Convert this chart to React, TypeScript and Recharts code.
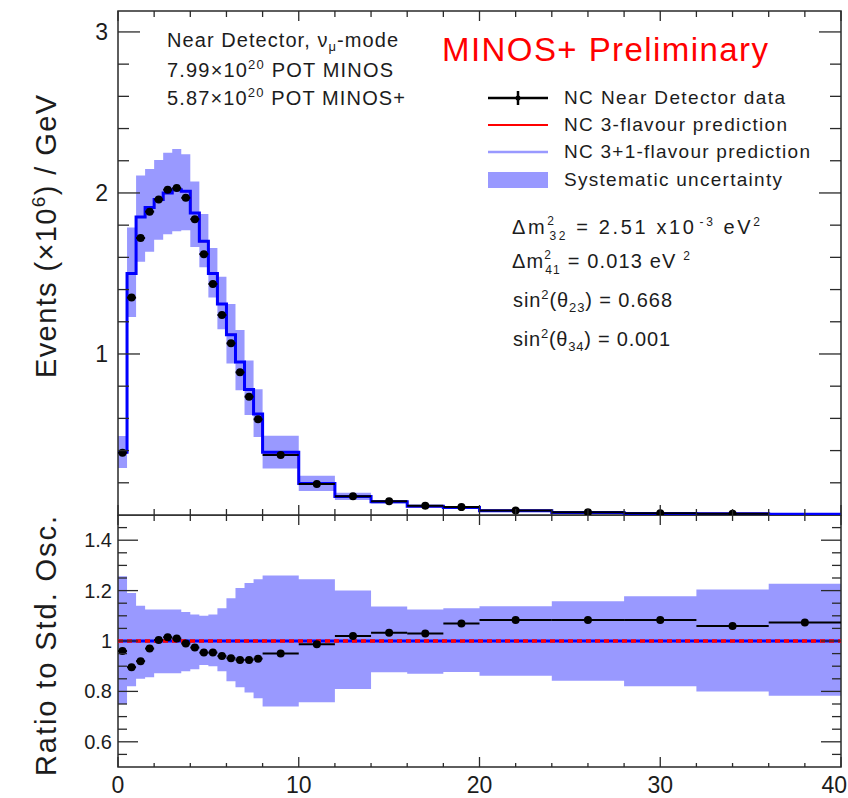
import React from 'react';
import {
  ComposedChart,
  Line,
  Area,
  Scatter,
  ErrorBar,
  XAxis,
  YAxis,
  ReferenceArea,
  Legend,
} from 'recharts';

// ---- binning (reconstructed neutrino energy, GeV) ----
const binEdges = [
  0, 0.5, 1, 1.5, 2, 2.5, 3, 3.5, 4, 4.5, 5, 5.5, 6, 6.5, 7, 7.5, 8,
  10, 12, 14, 16, 18, 20, 24, 28, 32, 36, 40,
];

// ---- upper panel: events (x10^6) / GeV per bin ----
const nc31Prediction = [
  0.39, 1.5, 1.85, 1.91, 1.96, 2.0, 2.02, 2.01, 1.875, 1.7, 1.5, 1.31, 1.12,
  0.95, 0.78, 0.627, 0.39, 0.196, 0.115, 0.082, 0.055, 0.046, 0.026, 0.016,
  0.01, 0.0075, 0.0045,
];
const nc3Prediction = [
  0.39, 1.5, 1.85, 1.91, 1.96, 2.0, 2.02, 2.01, 1.875, 1.7, 1.5, 1.31, 1.12,
  0.95, 0.78, 0.627, 0.39, 0.196, 0.115, 0.082, 0.055, 0.046, 0.026, 0.016,
  0.01, 0.0075, 0.0045,
];
const ncNearData: (number | null)[] = [
  0.387, 1.35, 1.72, 1.884, 1.96, 2.02, 2.03, 1.97, 1.837, 1.62, 1.435, 1.242,
  1.066, 0.886, 0.735, 0.594, 0.373, 0.193, 0.117, 0.085, 0.057, 0.049, 0.028,
  0.017, 0.011, 0.008, null,
];

// ---- lower panel: ratio to standard (3-flavour) oscillation ----
const ratioData = [
  0.96, 0.896, 0.92, 0.97, 1.004, 1.015, 1.01, 0.99, 0.974, 0.954, 0.954, 0.94,
  0.932, 0.925, 0.925, 0.93, 0.95, 0.987, 1.02, 1.033, 1.03, 1.069, 1.083,
  1.083, 1.083, 1.06, 1.073,
];
const ratio3Flavour = [
  1, 1, 1, 1, 1, 1, 1, 1, 1, 1, 1, 1, 1, 1, 1, 1, 1, 1, 1, 1, 1, 1, 1, 1, 1, 1, 1,
];
const ratio31Flavour = [
  1, 1, 1, 1, 1, 1, 1, 1, 1, 1, 1, 1, 1, 1, 1, 1, 1, 1, 1, 1, 1, 1, 1, 1, 1, 1, 1,
];
const systHigh = [
  1.257, 1.19, 1.14, 1.125, 1.125, 1.125, 1.125, 1.115, 1.105, 1.1, 1.105,
  1.13, 1.17, 1.21, 1.23, 1.245, 1.26, 1.245, 1.2, 1.137, 1.125, 1.13, 1.138,
  1.158, 1.178, 1.204, 1.227,
];
const systLow = [
  0.75, 0.82, 0.85, 0.856, 0.872, 0.872, 0.872, 0.88, 0.888, 0.905, 0.9, 0.88,
  0.84, 0.816, 0.796, 0.773, 0.74, 0.757, 0.81, 0.876, 0.87, 0.877, 0.862,
  0.842, 0.82, 0.8, 0.783,
];

// ---- axis ticks ----
const xTicks = [0, 2, 4, 6, 8, 10, 12, 14, 16, 18, 20, 22, 24, 26, 28, 30, 32, 34, 36, 38, 40];
const xMajorTicks = [0, 10, 20, 30, 40];
const upperYTicks = [
  0.2, 0.4, 0.6, 0.8, 1, 1.2, 1.4, 1.6, 1.8, 2, 2.2, 2.4, 2.6, 2.8, 3,
];
const upperYLabels = [1, 2, 3];
const lowerYTicks = [
  0.55, 0.6, 0.65, 0.7, 0.75, 0.8, 0.85, 0.9, 0.95, 1, 1.05, 1.1, 1.15, 1.2,
  1.25, 1.3, 1.35, 1.4, 1.45,
];
const lowerYLabels = [0.6, 0.8, 1, 1.2, 1.4];

const legendLabels = [
  'NC Near Detector data',
  'NC 3-flavour prediction',
  'NC 3+1-flavour prediction',
  'Systematic uncertainty',
];

// ---- layout & style ----
const W = 848;
const PLOT_L = 118;
const PLOT_R = 841;
const UP_H = 520;
const UP_TOP = 11;
const UP_BOTTOM = 515;
const LOW_H = 283;
const LOW_AXIS_H = 31;
const LOW_BOTTOM = LOW_H - LOW_AXIS_H;
const UP_DOMAIN: [number, number] = [0, 3.13];
const LOW_DOMAIN: [number, number] = [0.5, 1.5];
const X_DOMAIN: [number, number] = [0, 40];

const FONT = '"Liberation Sans", Arial, Helvetica, sans-serif';
const INK = '#1c1c1c';
const FRAME = '#2a2a2a';
const BAND = '#9999ff';
const BLUE = '#0000ff';
const RED = '#ff0000';

// ---- tables built from the arrays ----
const nBins = binEdges.length - 1;
const atBin = (arr: number[], i: number) => arr[Math.min(i, nBins - 1)];

const upperSteps = binEdges.map((x, i) => ({
  x,
  pred3: atBin(nc3Prediction, i),
  pred31: atBin(nc31Prediction, i),
  syst: [
    atBin(nc31Prediction, i) * atBin(systLow, i),
    atBin(nc31Prediction, i) * atBin(systHigh, i),
  ],
}));

const lowerSteps = binEdges.map((x, i) => ({
  x,
  r3: atBin(ratio3Flavour, i),
  r31: atBin(ratio31Flavour, i),
  syst: [atBin(systLow, i), atBin(systHigh, i)],
}));

const binPoints = (values: (number | null)[]) =>
  values
    .map((y, i) =>
      y == null
        ? null
        : {
            x: (binEdges[i] + binEdges[i + 1]) / 2,
            y,
            xerr: (binEdges[i + 1] - binEdges[i]) / 2,
          }
    )
    .filter((p): p is { x: number; y: number; xerr: number } => p !== null);

const upperPoints = binPoints(ncNearData);
const lowerPoints = binPoints(ratioData);

// ---- marks ----
const Marker = (p: any) =>
  p.cx == null || p.cy == null ? <g /> : <circle cx={p.cx} cy={p.cy} r={4} fill="#000" />;

const isIn = (list: number[], v: number) => list.some((t) => Math.abs(t - v) < 1e-6);

const UpperXTick = (p: any) => {
  const v = p.payload?.value ?? 0;
  const len = isIn(xMajorTicks, v) ? 10 : 6;
  return (
    <g>
      <line x1={p.x} x2={p.x} y1={UP_BOTTOM} y2={UP_BOTTOM - len} stroke={FRAME} strokeWidth={1.3} />
      <line x1={p.x} x2={p.x} y1={UP_TOP} y2={UP_TOP + len} stroke={FRAME} strokeWidth={1.3} />
    </g>
  );
};

const LowerXTick = (p: any) => {
  const v = p.payload?.value ?? 0;
  const major = isIn(xMajorTicks, v);
  const last = Math.abs(v - X_DOMAIN[1]) < 1e-6;
  return (
    <g>
      <line x1={p.x} x2={p.x} y1={0} y2={major ? 10 : 6} stroke={FRAME} strokeWidth={1.3} />
      <line x1={p.x} x2={p.x} y1={LOW_BOTTOM} y2={LOW_BOTTOM - (major ? 10 : 4)} stroke={FRAME} strokeWidth={1.3} />
      {major && (
        <text
          x={last ? W - 1 : p.x}
          y={LOW_BOTTOM + 26}
          textAnchor={last ? 'end' : 'middle'}
          fontSize={23}
          fontFamily={FONT}
          fill={INK}
        >
          {v}
        </text>
      )}
    </g>
  );
};

const UpperYTick = (p: any) => {
  const v = p.payload?.value ?? 0;
  const major = isIn(upperYLabels, v);
  const len = major ? 22 : 11;
  return (
    <g>
      <line x1={PLOT_L} x2={PLOT_L + len} y1={p.y} y2={p.y} stroke={FRAME} strokeWidth={1.3} />
      <line x1={PLOT_R - len} x2={PLOT_R} y1={p.y} y2={p.y} stroke={FRAME} strokeWidth={1.3} />
      {major && (
        <text x={108} y={p.y + 8} textAnchor="end" fontSize={23} fontFamily={FONT} fill={INK}>
          {v}
        </text>
      )}
    </g>
  );
};

const LowerYTick = (p: any) => {
  const v = p.payload?.value ?? 0;
  const major = isIn(lowerYLabels, v);
  const len = major ? 20 : 9;
  return (
    <g>
      <line x1={PLOT_L} x2={PLOT_L + len} y1={p.y} y2={p.y} stroke={FRAME} strokeWidth={1.3} />
      <line x1={PLOT_R - len} x2={PLOT_R} y1={p.y} y2={p.y} stroke={FRAME} strokeWidth={1.3} />
      {major && (
        <text x={112} y={p.y + 7} textAnchor="end" fontSize={20} fontFamily={FONT} fill={INK}>
          {Math.abs(v - 1) < 1e-6 ? '1' : v.toFixed(1)}
        </text>
      )}
    </g>
  );
};

// ---- legend ----
const LEG_X0 = 488;
const LEG_X1 = 548;
const LEG_TEXT_X = 564;
const LEG_ROWS_Y = [98, 125, 152, 180];
const LEG_TEXT_LEN = [221, 223, 246, 218];

const renderLegend = () => (
  <svg width={W} height={200} style={{ display: 'block' }}>
    {/* data: line with error tick and marker */}
    <line x1={LEG_X0} x2={LEG_X1} y1={LEG_ROWS_Y[0]} y2={LEG_ROWS_Y[0]} stroke="#000" strokeWidth={2.5} />
    <line x1={518} x2={518} y1={LEG_ROWS_Y[0] - 7} y2={LEG_ROWS_Y[0] + 7} stroke="#000" strokeWidth={2.5} />
    <circle cx={518} cy={LEG_ROWS_Y[0]} r={2.5} fill="#000" />
    {/* 3-flavour */}
    <line x1={LEG_X0} x2={LEG_X1} y1={LEG_ROWS_Y[1]} y2={LEG_ROWS_Y[1]} stroke={RED} strokeWidth={2} />
    {/* 3+1-flavour */}
    <line x1={LEG_X0} x2={LEG_X1} y1={LEG_ROWS_Y[2]} y2={LEG_ROWS_Y[2]} stroke={BAND} strokeWidth={2.5} />
    {/* band */}
    <rect x={LEG_X0} y={LEG_ROWS_Y[3] - 8} width={LEG_X1 - LEG_X0} height={16} fill={BAND} />
    {legendLabels.map((label, i) => (
      <text
        key={label}
        x={LEG_TEXT_X}
        y={LEG_ROWS_Y[i] + 6}
        fontSize={19}
        fontFamily={FONT}
        fill={INK}
        textLength={LEG_TEXT_LEN[i]}
        lengthAdjust="spacing"
      >
        {label}
      </text>
    ))}
  </svg>
);

// ---- annotations and axis titles ----
const Annotations = () => (
  <svg
    width={W}
    height={798}
    style={{ position: 'absolute', left: 0, top: 0, pointerEvents: 'none' }}
    fontFamily={FONT}
    fill={INK}
  >
    <text x={167} y={47} fontSize={20} textLength={231} lengthAdjust="spacing">
      Near Detector, ν<tspan dy={4} fontSize={13}>μ</tspan>
      <tspan dy={-4}>-mode</tspan>
    </text>
    <text x={167} y={77} fontSize={20} textLength={226} lengthAdjust="spacing">
      7.99×10<tspan dy={-8} fontSize={13}>20</tspan>
      <tspan dy={8}>{' POT MINOS'}</tspan>
    </text>
    <text x={167} y={105} fontSize={20} textLength={238} lengthAdjust="spacing">
      5.87×10<tspan dy={-8} fontSize={13}>20</tspan>
      <tspan dy={8}>{' POT MINOS+'}</tspan>
    </text>

    <text x={442} y={61} fontSize={33} fill={RED} textLength={326} lengthAdjust="spacing">
      MINOS+ Preliminary
    </text>

    <text x={512} y={234} fontSize={20} textLength={248} lengthAdjust="spacing">
      Δm<tspan dy={-9} fontSize={12}>2</tspan>
      <tspan dx={-7} dy={15} fontSize={12}>32</tspan>
      <tspan dy={-6}>{' = 2.51 x10'}</tspan>
      <tspan dx={3} dy={-8} fontSize={12}>-3</tspan>
      <tspan dy={8}>{' eV'}</tspan>
      <tspan dy={-8} fontSize={12}>2</tspan>
    </text>
    <text x={512} y={268} fontSize={20} textLength={178} lengthAdjust="spacing">
      Δm<tspan dy={-9} fontSize={12}>2</tspan>
      <tspan dx={-7} dy={15} fontSize={12}>41</tspan>
      <tspan dy={-6}>{' = 0.013 eV '}</tspan>
      <tspan dy={-8} fontSize={12}>2</tspan>
    </text>
    <text x={513} y={307} fontSize={20} textLength={159} lengthAdjust="spacing">
      sin<tspan dy={-8} fontSize={13}>2</tspan>
      <tspan dy={8}>(θ</tspan>
      <tspan dy={5} fontSize={13}>23</tspan>
      <tspan dy={-5}>{') = 0.668'}</tspan>
    </text>
    <text x={513} y={346} fontSize={20} textLength={157} lengthAdjust="spacing">
      sin<tspan dy={-8} fontSize={13}>2</tspan>
      <tspan dy={8}>(θ</tspan>
      <tspan dy={5} fontSize={13}>34</tspan>
      <tspan dy={-5}>{') = 0.001'}</tspan>
    </text>

    <text transform="rotate(-90)" x={-378} y={56} fontSize={29} textLength={283} lengthAdjust="spacing">
      Events (×10<tspan dy={-11} fontSize={19}>6</tspan>
      <tspan dy={11}>) / GeV</tspan>
    </text>
    <text transform="rotate(-90)" x={-776} y={56} fontSize={29} textLength={260} lengthAdjust="spacing">
      Ratio to Std. Osc.
    </text>
  </svg>
);

export default function App() {
  return (
    <div
      style={{
        position: 'absolute',
        left: 0,
        top: 0,
        width: W,
        height: 798,
        background: '#fff',
        overflow: 'hidden',
        fontFamily: FONT,
      }}
    >
      <div style={{ position: 'absolute', left: 0, top: 0 }}>
        <ComposedChart width={W} height={UP_H} margin={{ top: UP_TOP, right: W - PLOT_R, bottom: 0, left: 0 }}>
          <XAxis
            type="number"
            dataKey="x"
            domain={X_DOMAIN}
            ticks={xTicks}
            interval={0}
            height={UP_H - UP_BOTTOM}
            axisLine={false}
            tickLine={false}
            tick={(p: any) => <UpperXTick {...p} />}
            allowDataOverflow
          />
          <YAxis
            type="number"
            domain={UP_DOMAIN}
            ticks={upperYTicks}
            interval={0}
            width={PLOT_L}
            axisLine={false}
            tickLine={false}
            tick={(p: any) => <UpperYTick {...p} />}
            allowDataOverflow
          />
          <Area
            data={upperSteps}
            dataKey="syst"
            type="stepAfter"
            fill={BAND}
            fillOpacity={1}
            stroke="none"
            isAnimationActive={false}
          />
          <Line
            data={upperSteps}
            dataKey="pred3"
            type="stepAfter"
            stroke={RED}
            strokeWidth={2}
            dot={false}
            isAnimationActive={false}
          />
          <Line
            data={upperSteps}
            dataKey="pred31"
            type="stepAfter"
            stroke={BLUE}
            strokeWidth={3}
            dot={false}
            isAnimationActive={false}
          />
          <Scatter data={upperPoints} dataKey="y" shape={Marker} isAnimationActive={false}>
            <ErrorBar dataKey="xerr" direction="x" width={0} stroke="#000" strokeWidth={2} />
          </Scatter>
          <ReferenceArea
            x1={X_DOMAIN[0]}
            x2={X_DOMAIN[1]}
            y1={UP_DOMAIN[0]}
            y2={UP_DOMAIN[1]}
            fill="none"
            fillOpacity={0}
            stroke={FRAME}
            strokeWidth={1.5}
          />
          <Legend
            content={renderLegend}
            layout="horizontal"
            verticalAlign="middle"
            align="center"
            wrapperStyle={{ left: 0, top: 0, width: W, height: 200 }}
          />
        </ComposedChart>
      </div>

      <div style={{ position: 'absolute', left: 0, top: UP_BOTTOM }}>
        <ComposedChart width={W} height={LOW_H} margin={{ top: 0, right: W - PLOT_R, bottom: 0, left: 0 }}>
          <XAxis
            type="number"
            dataKey="x"
            domain={X_DOMAIN}
            ticks={xTicks}
            interval={0}
            height={LOW_AXIS_H}
            axisLine={false}
            tickLine={false}
            tick={(p: any) => <LowerXTick {...p} />}
            allowDataOverflow
          />
          <YAxis
            type="number"
            domain={LOW_DOMAIN}
            ticks={lowerYTicks}
            interval={0}
            width={PLOT_L}
            axisLine={false}
            tickLine={false}
            tick={(p: any) => <LowerYTick {...p} />}
            allowDataOverflow
          />
          <Area
            data={lowerSteps}
            dataKey="syst"
            type="stepAfter"
            fill={BAND}
            fillOpacity={1}
            stroke="none"
            isAnimationActive={false}
          />
          <Line
            data={lowerSteps}
            dataKey="r31"
            type="stepAfter"
            stroke={BLUE}
            strokeWidth={3}
            dot={false}
            isAnimationActive={false}
          />
          <Line
            data={lowerSteps}
            dataKey="r3"
            type="stepAfter"
            stroke={RED}
            strokeWidth={3.5}
            strokeDasharray="5 4"
            dot={false}
            isAnimationActive={false}
          />
          <Scatter data={lowerPoints} dataKey="y" shape={Marker} isAnimationActive={false}>
            <ErrorBar dataKey="xerr" direction="x" width={0} stroke="#000" strokeWidth={2} />
          </Scatter>
          <ReferenceArea
            x1={X_DOMAIN[0]}
            x2={X_DOMAIN[1]}
            y1={LOW_DOMAIN[0]}
            y2={LOW_DOMAIN[1]}
            fill="none"
            fillOpacity={0}
            stroke={FRAME}
            strokeWidth={1.5}
          />
        </ComposedChart>
      </div>

      <Annotations />
    </div>
  );
}
